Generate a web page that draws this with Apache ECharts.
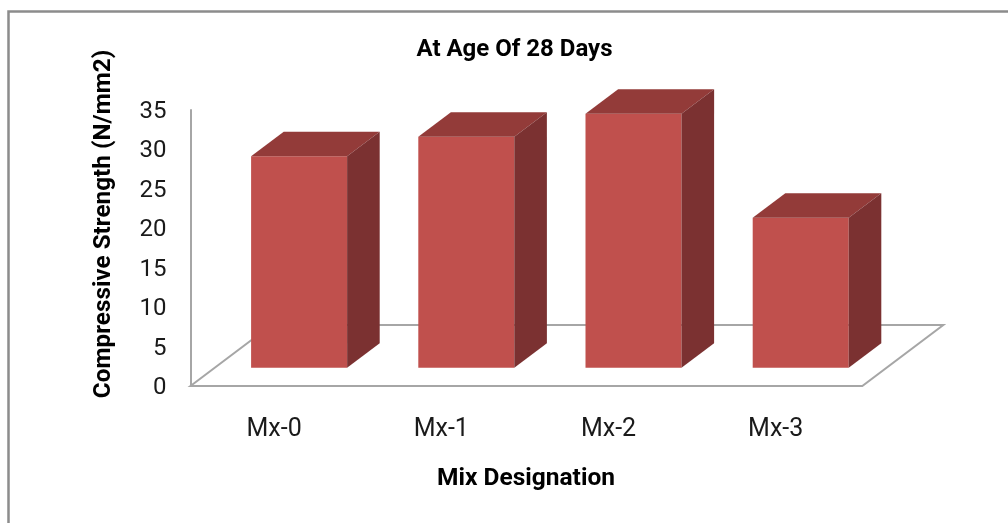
<!DOCTYPE html>
<html>
<head>
<meta charset="utf-8">
<title>At Age Of 28 Days</title>
<script src="https://cdn.jsdelivr.net/npm/echarts@6/dist/echarts.min.js"></script>
<style>
  html, body { margin: 0; padding: 0; background: #fff; }
  #main { width: 1008px; height: 523px; }
</style>
</head>
<body>
<div id="main"></div>
<script>
const categories = ['Mx-0', 'Mx-1', 'Mx-2', 'Mx-3']
const strength = [26.8, 29.3, 32.2, 19]
const yTicks = [0, 5, 10, 15, 20, 25, 30, 35]

// fake 3d: the floor goes back by depth, bars stand a bit inside it
const floorExtra = 3
const floorDx = 81
const floorDy = -61
const insetDx = 25
const insetDy = -18.3
const depthDx = 32.6
const depthDy = -24.5
const barWidth = 96

const font = 'Roboto, "Liberation Sans", Arial, sans-serif'

const chart = echarts.init(document.getElementById('main'), null, { renderer: 'canvas' })

function poly(points, color) {
  return { type: 'polygon', shape: { points: points }, style: { fill: color } }
}

function renderBar(params, api) {
  const base = api.coord([api.value(0), 0])
  const top = api.coord([api.value(0), api.value(1)])
  const left = base[0] + insetDx - barWidth / 2
  const right = left + barWidth
  const bottom = base[1] + insetDy
  const high = top[1] + insetDy
  return {
    type: 'group',
    children: [
      poly([[left, high], [right, high], [right, bottom], [left, bottom]], '#c0504d'),
      poly([[left, high], [left + depthDx, high + depthDy], [right + depthDx, high + depthDy], [right, high]], '#933b39'),
      poly([[right, high], [right + depthDx, high + depthDy], [right + depthDx, bottom + depthDy], [right, bottom]], '#7b3131'),
    ],
  }
}

function renderFloor(params, api) {
  const sys = params.coordSys
  const x0 = sys.x
  const x1 = sys.x + sys.width + floorExtra
  const y0 = sys.y + sys.height
  return {
    type: 'polygon',
    shape: {
      points: [
        [x0, y0],
        [x0 + floorDx, y0 + floorDy],
        [x1 + floorDx, y0 + floorDy],
        [x1, y0],
      ],
    },
    style: { fill: null, stroke: '#a6a6a6', lineWidth: 2 },
  }
}

const option = {
  animation: false,
  grid: { left: 190.5, right: 148.7, top: 110, bottom: 137 },
  xAxis: {
    type: 'category',
    data: categories,
    axisTick: { show: false },
    axisLine: { show: false },
    axisLabel: { color: '#1a1a1a', fontSize: 25, fontFamily: font, margin: 31 },
  },
  yAxis: {
    type: 'value',
    min: yTicks[0],
    max: yTicks[yTicks.length - 1],
    interval: 5,
    splitLine: { show: false },
    axisTick: { show: false },
    axisLine: { show: true, lineStyle: { color: '#a6a6a6', width: 2 } },
    axisLabel: {
      color: '#1a1a1a',
      fontSize: 24,
      fontFamily: font,
      margin: 24,
      verticalAlign: 'top',
      lineHeight: 24,
      padding: [-10, 0, 0, 0],
    },
  },
  series: [
    {
      type: 'custom',
      renderItem: renderFloor,
      data: [[0, 0]],
      silent: true,
      clip: false,
      z: 1,
    },
    {
      type: 'custom',
      renderItem: renderBar,
      data: strength.map((v, i) => [i, v]),
      encode: { x: 0, y: 1 },
      clip: false,
      z: 2,
    },
  ],
  graphic: [
    {
      type: 'rect',
      z: -1,
      shape: { x: 8.5, y: 11.5, width: 1100, height: 600 },
      style: { fill: '#fff', stroke: '#8c8c8c', lineWidth: 2.5 },
    },
    {
      type: 'text',
      x: 514.5,
      y: 50,
      style: {
        text: 'At Age Of 28 Days',
        font: 'bold 24px ' + font,
        fill: '#000',
        align: 'center',
        verticalAlign: 'middle',
      },
    },
    {
      type: 'text',
      x: 526,
      y: 479,
      style: {
        text: 'Mix Designation',
        font: 'bold 24.5px ' + font,
        fill: '#000',
        align: 'center',
        verticalAlign: 'middle',
      },
    },
    {
      type: 'text',
      x: 104,
      y: 224,
      rotation: Math.PI / 2,
      style: {
        text: 'Compressive Strength (N/mm2)',
        font: 'bold 24.3px ' + font,
        fill: '#000',
        align: 'center',
        verticalAlign: 'middle',
      },
    },
  ],
}
chart.setOption(option)
</script>
</body>
</html>
